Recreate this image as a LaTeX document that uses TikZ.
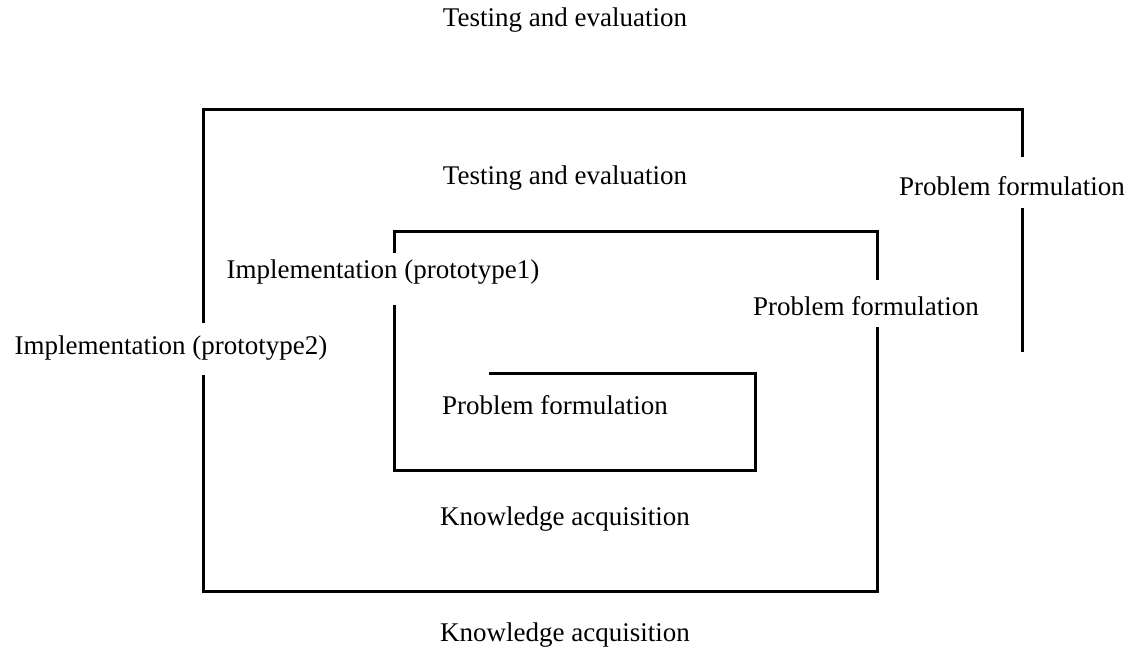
\documentclass[tikz,border=0pt]{standalone}
\usepackage{fontspec}
\setmainfont{Liberation Serif}
\begin{document}
\begin{tikzpicture}[x=1pt,y=-1pt,
  lbl/.style={inner sep=0pt,font=\fontsize{27}{30}\selectfont},
  wall/.style={line width=3pt,line cap=butt,line join=miter}]
\useasboundingbox (0,0) rectangle (1143,652);

% labels
\node[lbl] (te0) at (565,20) {Testing and evaluation};
\node[lbl] (te1) at (565,178) {Testing and evaluation};
\node[lbl] (pf2) at (1012,186) {Problem formulation};
\node[lbl] (im1) at (383,272) {Implementation (prototype1)};
\node[lbl] (pf1) at (866,306) {Problem formulation};
\node[lbl] (im2) at (171,348) {Implementation (prototype2)};
\node[lbl] (pf0) at (555,405) {Problem formulation};
\node[lbl] (ka0) at (565,519) {Knowledge acquisition};
\node[lbl] (ka1) at (565,635) {Knowledge acquisition};

% corners of the spiral
\coordinate (o1) at (1022,110);
\coordinate (o2) at (203,110);
\coordinate (o3) at (203,591);
\coordinate (o4) at (877,591);
\coordinate (m1) at (877,232);
\coordinate (m2) at (394,232);
\coordinate (m3) at (394,470);
\coordinate (i1) at (755,470);
\coordinate (i2) at (755,373);
\coordinate (i3) at (489,373);

% spiral, broken where labels cross it
\draw[wall] (1022,352) -- (1022,208);
\draw[wall] (1022,157) -- (o1) -- (o2) -- (203,323);
\draw[wall] (203,375) -- (o3) -- (o4) -- (877,327);
\draw[wall] (877,280) -- (m1) -- (m2) -- (394,253);
\draw[wall] (394,305) -- (m3) -- (i1) -- (i2) -- (i3);
\end{tikzpicture}
\end{document}
